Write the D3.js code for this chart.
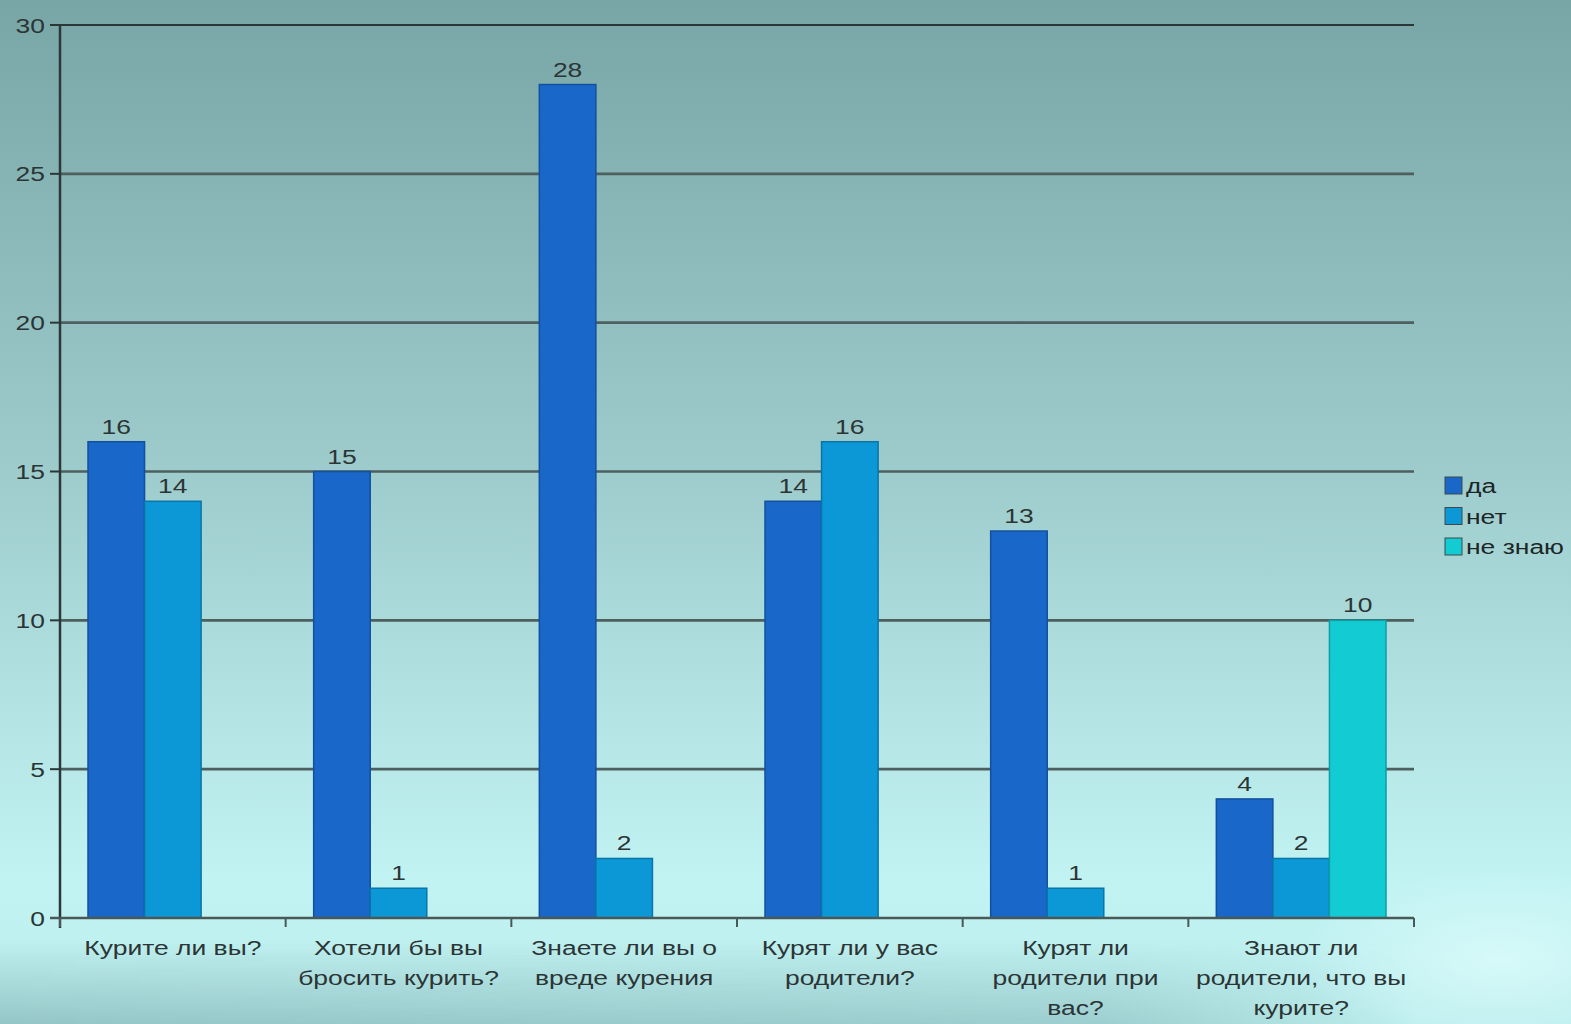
<!DOCTYPE html>
<html><head><meta charset="utf-8">
<script src="https://cdn.jsdelivr.net/npm/d3@7"></script>
<style>html,body{margin:0;padding:0;overflow:hidden}svg{display:block}</style>
</head><body>
<svg id="c" width="1571" height="1024"></svg>
<script>
const categories = [
  ["Курите ли вы?"],
  ["Хотели бы вы", "бросить курить?"],
  ["Знаете ли вы о", "вреде курения"],
  ["Курят ли у вас", "родители?"],
  ["Курят ли", "родители при", "вас?"],
  ["Знают ли", "родители, что вы", "курите?"]
];
const seriesNames = ["да", "нет", "не знаю"];
const da      = [16, 15, 28, 14, 13, 4];
const net     = [14, 1, 2, 16, 1, 2];
const neZnayu = [null, null, null, null, null, 10];
const yTicks = [0, 5, 10, 15, 20, 25, 30];
const colors = ["#1867c9", "#0c98d6", "#12cbd3"];

const svg = d3.select("#c");
const defs = svg.append("defs");
const lg = defs.append("linearGradient").attr("id","bg").attr("x1",0).attr("y1",0).attr("x2",0).attr("y2",1);
lg.append("stop").attr("offset","0%").attr("stop-color","#78a6a7");
lg.append("stop").attr("offset","45%").attr("stop-color","#9dcbcc");
lg.append("stop").attr("offset","86%").attr("stop-color","#c2f3f3");
lg.append("stop").attr("offset","100%").attr("stop-color","#bdeeee");
svg.append("rect").attr("width",1571).attr("height",1024).attr("fill","url(#bg)");
const bl = defs.append("linearGradient").attr("id","bot").attr("x1",0).attr("y1",0).attr("x2",0).attr("y2",1);
bl.append("stop").attr("offset","0%").attr("stop-color","#6e9fa1").attr("stop-opacity",0);
bl.append("stop").attr("offset","100%").attr("stop-color","#6e9fa1").attr("stop-opacity",0.5);
const bm = defs.append("linearGradient").attr("id","botmask").attr("x1",0).attr("y1",0).attr("x2",1).attr("y2",0);
bm.append("stop").attr("offset","0%").attr("stop-color","#fff").attr("stop-opacity",1);
bm.append("stop").attr("offset","70%").attr("stop-color","#fff").attr("stop-opacity",0.8);
bm.append("stop").attr("offset","90%").attr("stop-color","#fff").attr("stop-opacity",0);
defs.append("mask").attr("id","m1").append("rect").attr("width",1571).attr("height",1024).attr("fill","url(#botmask)");
svg.append("rect").attr("x",0).attr("y",940).attr("width",1571).attr("height",84)
  .attr("fill","url(#bot)").attr("mask","url(#m1)");
const rg = defs.append("radialGradient").attr("id","glow").attr("cx","0.5").attr("cy","0.5").attr("r","0.5");
rg.append("stop").attr("offset","0%").attr("stop-color","#e6ffff").attr("stop-opacity",0.6);
rg.append("stop").attr("offset","100%").attr("stop-color","#e6ffff").attr("stop-opacity",0);
svg.append("ellipse").attr("cx",1500).attr("cy",960).attr("rx",200).attr("ry",90).attr("fill","url(#glow)");

const L = 60, R = 1414, T = 25, B = 918;
const y = d3.scaleLinear().domain([0, 30]).range([B, T]);
const x0 = d3.scaleBand().domain(d3.range(categories.length)).range([L, R]);
const x1 = d3.scaleBand().domain(d3.range(3)).range([28, x0.bandwidth() - 28]);

const font = "'Liberation Sans', Arial, sans-serif";
const textColor = "#2b3535";
const SX = 1.26;

function stretchedText(g, x, yy, txt, size, anchor, color) {
  return g.append("text")
    .attr("transform", `translate(${x},${yy}) scale(${SX},1)`)
    .attr("text-anchor", anchor)
    .attr("font-family", font).attr("font-size", size).attr("fill", color || textColor)
    .text(txt);
}

svg.append("g").selectAll("line").data(yTicks.filter(d => d > 0)).join("line")
  .attr("x1", L).attr("x2", R).attr("y1", d => y(d)).attr("y2", d => y(d))
  .attr("stroke", d => d === 30 ? "#2c3838" : "#4d5f5f").attr("stroke-width", d => d === 30 ? 2 : 2.6);

const series = [da, net, neZnayu];
const barData = [];
series.forEach((s, si) => s.forEach((v, ci) => { if (v != null) barData.push({si, ci, v}); }));
svg.append("g").selectAll("rect").data(barData).join("rect")
  .attr("x", d => x0(d.ci) + x1(d.si))
  .attr("width", x1.bandwidth())
  .attr("y", d => y(d.v))
  .attr("height", d => y(0) - y(d.v))
  .attr("fill", d => colors[d.si])
  .attr("stroke", d => d3.color(colors[d.si]).darker(0.7))
  .attr("stroke-width", 1.5);

const gv = svg.append("g");
barData.forEach(d => stretchedText(gv, x0(d.ci) + x1(d.si) + x1.bandwidth() / 2, y(d.v) - 8, d.v, 21, "middle"));

const gy = svg.append("g").attr("transform", `translate(${L},0)`);
gy.append("line").attr("x1",0).attr("x2",0).attr("y1",T).attr("y2",B + 10)
  .attr("stroke", "#2c3838").attr("stroke-width", 2.5);
gy.selectAll(".yt").data(yTicks).join("line").attr("class","yt")
  .attr("x1", -10).attr("x2", 0).attr("y1", d => y(d)).attr("y2", d => y(d))
  .attr("stroke", "#2c3838").attr("stroke-width", 2);
yTicks.forEach(v => stretchedText(gy, -15, y(v) + 7.5, v, 21, "end"));

const gx = svg.append("g").attr("transform", `translate(0,${B})`);
gx.append("line").attr("x1", L - 10).attr("x2", R).attr("y1", 0).attr("y2", 0)
  .attr("stroke", "#4a5858").attr("stroke-width", 2.6);
const xt = d3.range(categories.length + 1).map(i => i === categories.length ? R : x0(i));
gx.selectAll(".xt").data(xt).join("line").attr("class","xt")
  .attr("x1", d => d).attr("x2", d => d).attr("y1", 0).attr("y2", 9)
  .attr("stroke", "#4a5858").attr("stroke-width", 2);
categories.forEach((lines, i) => {
  lines.forEach((ln, j) => stretchedText(gx, x0(i) + x0.bandwidth() / 2, 37 + j * 30, ln, 21, "middle"));
});

const leg = svg.append("g").attr("transform", "translate(1445,477)");
seriesNames.forEach((n, i) => {
  const g = leg.append("g").attr("transform", `translate(0,${i * 30.5})`);
  g.append("rect").attr("width", 17).attr("height", 17).attr("fill", colors[i])
    .attr("stroke", "#3c4a4a").attr("stroke-width", 1);
  stretchedText(g, 21, 16, n, 21, "start", "#1c2626");
});
</script>
</body></html>
